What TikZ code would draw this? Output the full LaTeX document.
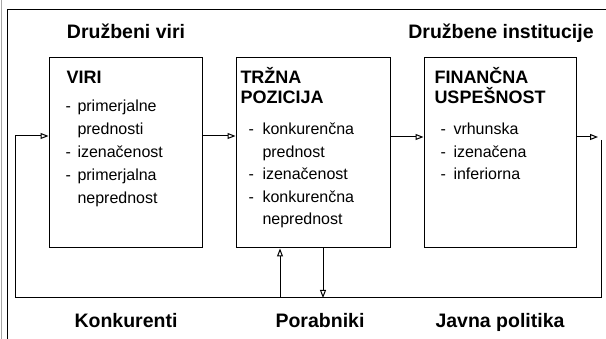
\documentclass[tikz,border=0pt]{standalone}
\usepackage{fontspec}
\setmainfont{Liberation Sans}
\usetikzlibrary{arrows.meta}
\begin{document}
\begin{tikzpicture}[x=1pt,y=-1pt,
  line width=1pt,
  box/.style={draw, minimum height=190pt, inner sep=0pt},
  arr/.style={-{Triangle[open,length=8pt,width=6pt]}},
  body/.style={anchor=base west, inner sep=0pt, font=\fontsize{16}{18}\selectfont},
  head/.style={anchor=base west, inner sep=0pt, font=\bfseries\fontsize{18}{20}\selectfont},
  sect/.style={anchor=base, inner sep=0pt, font=\bfseries\fontsize{19.5}{21}\selectfont}]
\useasboundingbox (0,0) rectangle (606,339);
% outer frame
\draw[gray!70, line width=0.5pt] (1,0) -- (1,339);
\draw (7,339) -- (7,10) -- (606,10);
% section labels
\node[sect] (s1) at (126,39) {Družbeni viri};
\node[sect] (s2) at (501,39) {Družbene institucije};
\node[sect] (s3) at (126,328) {Konkurenti};
\node[sect] (s4) at (320,328) {Porabniki};
\node[sect] (s5) at (500,328) {Javna politika};
% boxes
\node[box, minimum width=153pt] (viri) at (125.5,153) {};
\node[box, minimum width=154pt] (trzna) at (313,153) {};
\node[box, minimum width=152pt] (fin) at (500,153) {};
% VIRI
\node[head] (h1) at (66,84) {VIRI};
\node[body] (d11) at (65,112) {-};
\node[body] (t11) at (77,112) {primerjalne};
\node[body] (t12) at (77,135) {prednosti};
\node[body] (d13) at (65,158) {-};
\node[body] (t13) at (77,158) {izenačenost};
\node[body] (d14) at (65,181) {-};
\node[body] (t14) at (77,181) {primerjalna};
\node[body] (t15) at (77,204) {neprednost};
% TRZNA POZICIJA
\node[head] (h2) at (240,84) {TRŽNA};
\node[head] (h2b) at (240,104) {POZICIJA};
\node[body] (d21) at (248,135) {-};
\node[body] (t21) at (262,135) {konkurenčna};
\node[body] (t22) at (262,157.5) {prednost};
\node[body] (d23) at (248,180) {-};
\node[body] (t23) at (262,180) {izenačenost};
\node[body] (d24) at (248,202.5) {-};
\node[body] (t24) at (262,202.5) {konkurenčna};
\node[body] (t25) at (262,225) {neprednost};
% FINANCNA USPESNOST
\node[head] (h3) at (434,84) {FINANČNA};
\node[head] (h3b) at (434,104) {USPEŠNOST};
\node[body] (d31) at (440,135) {-};
\node[body] (t31) at (453,135) {vrhunska};
\node[body] (d32) at (440,157.5) {-};
\node[body] (t32) at (453,157.5) {izenačena};
\node[body] (d33) at (440,180) {-};
\node[body] (t33) at (453,180) {inferiorna};
% connectors
\draw[arr] ([yshift=17pt]viri.east) -- ([yshift=17pt]trzna.west);
\draw[arr] ([yshift=16pt]trzna.east) -- ([yshift=16pt]fin.west);
\coordinate (outR) at (598,137);
\draw[arr] ([yshift=16pt]fin.east) -- (outR);
\coordinate (lr) at (601,140);
\coordinate (lbr) at (601,298);
\coordinate (lbl) at (15,298);
\coordinate (ltl) at (15,136);
\draw[arr] (lr) -- (lbr) -- (lbl) -- (ltl) -- ([yshift=17pt]viri.west);
\coordinate (up0) at (280,298);
\coordinate (dn1) at (323,298);
\draw[arr] (up0) -- ([xshift=-33pt]trzna.south);
\draw[arr] ([xshift=10pt]trzna.south) -- (dn1);
\end{tikzpicture}
\end{document}
